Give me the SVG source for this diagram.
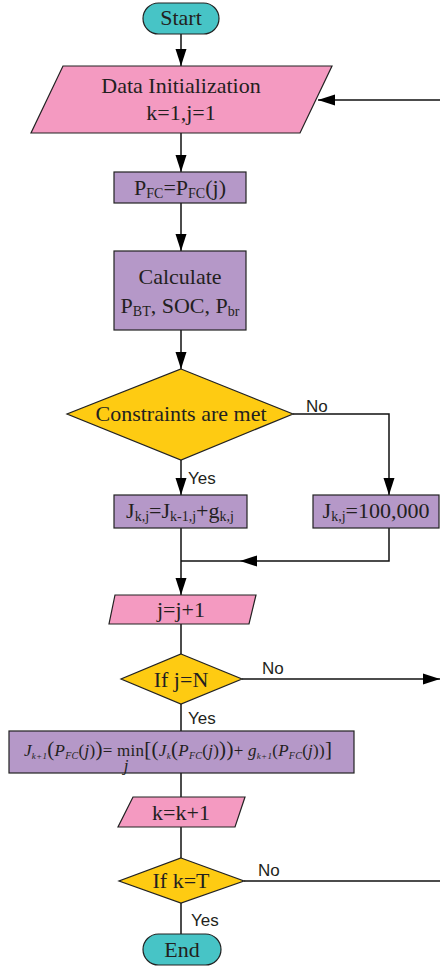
<svg xmlns="http://www.w3.org/2000/svg" width="440" height="969" viewBox="0 0 440 969">
  <style>
    .term { fill: #47C4C6; stroke: #222; stroke-width: 1.2; }
    .io { fill: #F49AC1; stroke: #222; stroke-width: 1.2; }
    .proc { fill: #B598C8; stroke: #222; stroke-width: 1.2; }
    .dec { fill: #FECB12; stroke: #222; stroke-width: 1.2; }
    .t { font-family: "Liberation Serif", "Times New Roman", serif; font-size: 22px; fill: #231F20; text-anchor: middle; }
    .sub { font-size: 14px; }
    .lbl { font-family: "Liberation Sans", Arial, sans-serif; font-size: 17px; fill: #231F20; }
    .edge { fill: none; stroke: #111; stroke-width: 1.5; }
    .math { font-family: "Liberation Serif", "Times New Roman", serif; font-size: 17px; fill: #231F20; }
  </style>
  <defs>
    <marker id="arrow" markerUnits="userSpaceOnUse" markerWidth="17" markerHeight="12" refX="17" refY="6" orient="auto">
      <path d="M0,0.5 L17,6 L0,11.5 Z" fill="#000"/>
    </marker>
  </defs>

  <!-- connectors -->
  <g id="connectors">
    <path class="edge" d="M181,34 V66" marker-end="url(#arrow)"/>
    <path class="edge" d="M440,100 H318" marker-end="url(#arrow)"/>
    <path class="edge" d="M181,133 V172" marker-end="url(#arrow)"/>
    <path class="edge" d="M181,203 V251" marker-end="url(#arrow)"/>
    <path class="edge" d="M181,330 V369" marker-end="url(#arrow)"/>
    <path class="edge" d="M181,460 V495" marker-end="url(#arrow)"/>
    <path class="edge" d="M293,414 H389 V495" marker-end="url(#arrow)"/>
    <path class="edge" d="M181,528 V595" marker-end="url(#arrow)"/>
    <path class="edge" d="M389,528 V561 H240" marker-end="url(#arrow)"/>
    <path class="edge" d="M240,561 H181"/>
    <path class="edge" d="M181,624 V654"/>
    <path class="edge" d="M242,679 H440" marker-end="url(#arrow)"/>
    <path class="edge" d="M181,704 V731"/>
    <path class="edge" d="M181,773 V797"/>
    <path class="edge" d="M181,827 V858"/>
    <path class="edge" d="M244,881 H440"/>
    <path class="edge" d="M181,903 V934"/>
    <text class="lbl" x="306" y="412">No</text>
    <text class="lbl" x="188" y="484">Yes</text>
    <text class="lbl" x="262" y="674">No</text>
    <text class="lbl" x="188" y="724">Yes</text>
    <text class="lbl" x="258" y="876">No</text>
    <text class="lbl" x="191" y="926">Yes</text>
  </g>

  <g id="start">
    <rect class="term" x="143" y="3" width="76" height="31" rx="15.5"/>
    <text class="t" x="181" y="25">Start</text>
  </g>

  <g id="init">
    <polygon class="io" points="63,66 332,66 300,133 31,133"/>
    <text class="t" x="181" y="93">Data Initialization</text>
    <text class="t" x="181" y="120">k=1,j=1</text>
  </g>

  <g id="set-pfc">
    <rect class="proc" x="114" y="172" width="132" height="31"/>
    <text class="t" x="180" y="195">P<tspan class="sub" dy="3">FC</tspan><tspan dy="-3">=P</tspan><tspan class="sub" dy="3">FC</tspan><tspan dy="-3">(j)</tspan></text>
  </g>

  <g id="calculate">
    <rect class="proc" x="114" y="251" width="132" height="79"/>
    <text class="t" x="180" y="284">Calculate</text>
    <text class="t" x="180" y="313">P<tspan class="sub" dy="3">BT</tspan><tspan dy="-3">, SOC, P</tspan><tspan class="sub" dy="3">br</tspan></text>
  </g>

  <g id="constraints">
    <polygon class="dec" points="181,369 293,414 181,460 67,414"/>
    <text class="t" x="181" y="421">Constraints are met</text>
  </g>

  <g id="cost-ok">
    <rect class="proc" x="114" y="495" width="133" height="33"/>
    <text class="t" x="180" y="518">J<tspan class="sub" dy="3">k,j</tspan><tspan dy="-3">=J</tspan><tspan class="sub" dy="3">k-1,j</tspan><tspan dy="-3">+g</tspan><tspan class="sub" dy="3">k,j</tspan></text>
  </g>

  <g id="cost-penalty">
    <rect class="proc" x="313" y="495" width="126" height="33"/>
    <text class="t" x="376" y="518">J<tspan class="sub" dy="3">k,j</tspan><tspan dy="-3">=100,000</tspan></text>
  </g>

  <g id="inc-j">
    <polygon class="io" points="115,595 256,595 249,624 109,624"/>
    <text class="t" x="181" y="617">j=j+1</text>
  </g>

  <g id="check-j">
    <polygon class="dec" points="181,654 242,679 181,704 121,679"/>
    <text class="t" x="181" y="687">If j=N</text>
  </g>

  <g id="bellman">
    <rect class="proc" x="9" y="731" width="345" height="42"/>
    <text class="math" x="24" y="756" textLength="308" lengthAdjust="spacing"><tspan font-style="italic">J</tspan><tspan font-size="9" font-style="italic" dy="3">k+1</tspan><tspan font-size="21" dy="-3">(</tspan><tspan font-style="italic">P</tspan><tspan font-size="10" font-style="italic" dy="3">FC</tspan><tspan dy="-3">(</tspan><tspan font-style="italic">j</tspan>)<tspan font-size="21">)</tspan>= min<tspan font-size="21">[(</tspan><tspan font-style="italic">J</tspan><tspan font-size="9" font-style="italic" dy="3">k</tspan><tspan font-size="21" dy="-3">(</tspan><tspan font-style="italic">P</tspan><tspan font-size="10" font-style="italic" dy="3">FC</tspan><tspan dy="-3">(</tspan><tspan font-style="italic">j</tspan>)<tspan font-size="21">))</tspan>+ <tspan font-style="italic">g</tspan><tspan font-size="9" font-style="italic" dy="3">k+1</tspan><tspan dy="-3">(</tspan><tspan font-style="italic">P</tspan><tspan font-size="10" font-style="italic" dy="3">FC</tspan><tspan dy="-3">(</tspan><tspan font-style="italic">j</tspan>))<tspan font-size="21">]</tspan></text>
    <text class="math" x="126" y="771" font-size="8" font-style="italic" text-anchor="middle">j</text>
  </g>

  <g id="inc-k">
    <polygon class="io" points="133,797 245,797 235,827 118,827"/>
    <text class="t" x="181" y="820">k=k+1</text>
  </g>

  <g id="check-k">
    <polygon class="dec" points="181,858 244,881 181,903 119,881"/>
    <text class="t" x="181" y="888">If k=T</text>
  </g>

  <g id="end">
    <rect class="term" x="143" y="934" width="78" height="31" rx="15.5"/>
    <text class="t" x="182" y="957">End</text>
  </g>
</svg>
